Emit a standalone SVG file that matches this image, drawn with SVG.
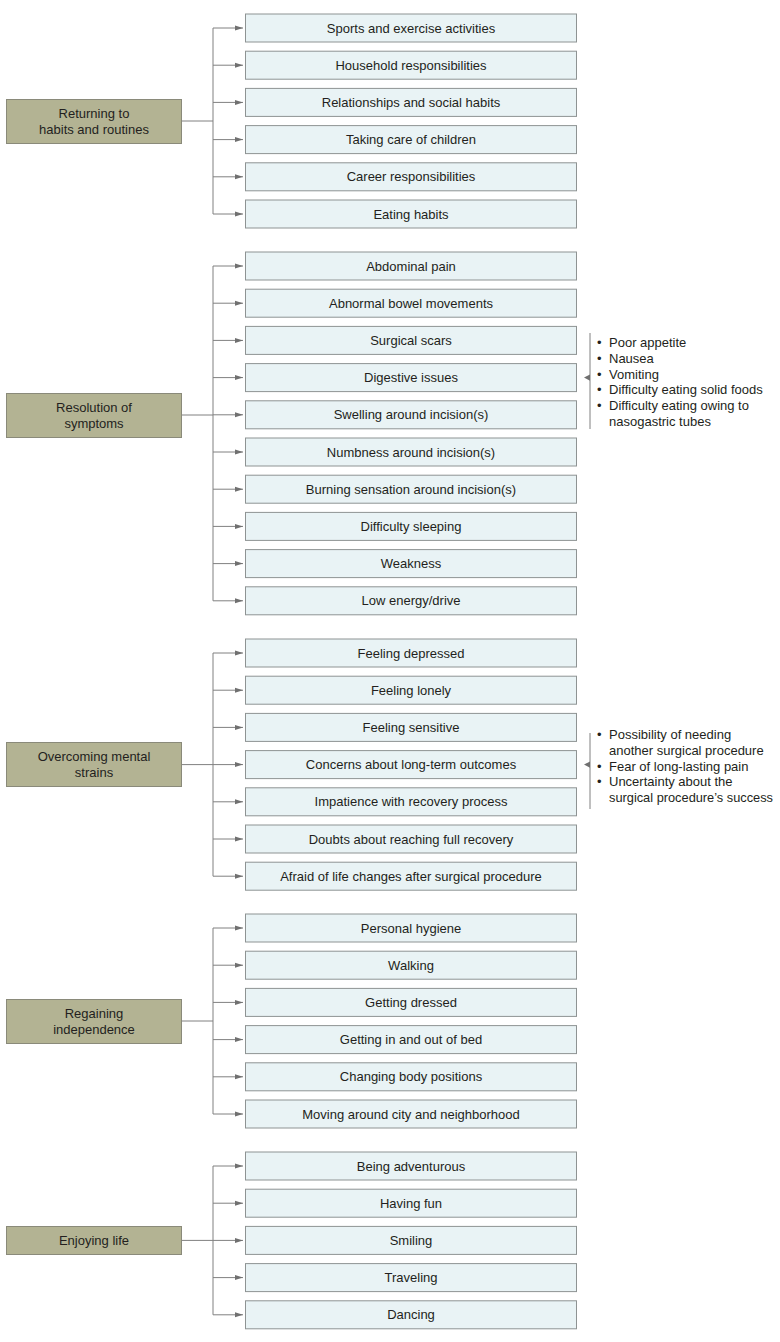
<svg xmlns="http://www.w3.org/2000/svg" width="780" height="1342" viewBox="0 0 780 1342">
<style>
.bg{fill:#ffffff}
.node rect.main{fill:#b3b393;stroke:#8a8a7a;stroke-width:1}
.node rect.item{fill:#e9f3f5;stroke:#8e9393;stroke-width:1}
text{font-family:"Liberation Sans",Arial,sans-serif;font-size:13px;fill:#231f20}
.c{text-anchor:middle}
.conn line{stroke:#808080;stroke-width:1;fill:none}
.conn path.tip{fill:#707070;stroke:none}
</style>
<defs>
<marker id="ah" viewBox="0 0 8 6" refX="8" refY="3" markerWidth="8" markerHeight="6" markerUnits="userSpaceOnUse" orient="auto">
<path d="M0,0.5 L8,3 L0,5.5 Z" fill="#707070"/>
</marker>
</defs>
<rect class="bg" x="0" y="0" width="780" height="1342"/>

<g class="conn">
<!-- group 1 -->
<line x1="182" y1="121" x2="213" y2="121"/>
<line x1="213" y1="28" x2="213" y2="214"/>
<line x1="213" y1="28" x2="243" y2="28" marker-end="url(#ah)"/>
<line x1="213" y1="65.2" x2="243" y2="65.2" marker-end="url(#ah)"/>
<line x1="213" y1="102.4" x2="243" y2="102.4" marker-end="url(#ah)"/>
<line x1="213" y1="139.6" x2="243" y2="139.6" marker-end="url(#ah)"/>
<line x1="213" y1="176.8" x2="243" y2="176.8" marker-end="url(#ah)"/>
<line x1="213" y1="214" x2="243" y2="214" marker-end="url(#ah)"/>
<!-- group 2 -->
<line x1="182" y1="415" x2="213" y2="415"/>
<line x1="213" y1="266" x2="213" y2="600.8"/>
<line x1="213" y1="266" x2="243" y2="266" marker-end="url(#ah)"/>
<line x1="213" y1="303.2" x2="243" y2="303.2" marker-end="url(#ah)"/>
<line x1="213" y1="340.4" x2="243" y2="340.4" marker-end="url(#ah)"/>
<line x1="213" y1="377.6" x2="243" y2="377.6" marker-end="url(#ah)"/>
<line x1="213" y1="414.8" x2="243" y2="414.8" marker-end="url(#ah)"/>
<line x1="213" y1="452" x2="243" y2="452" marker-end="url(#ah)"/>
<line x1="213" y1="489.2" x2="243" y2="489.2" marker-end="url(#ah)"/>
<line x1="213" y1="526.4" x2="243" y2="526.4" marker-end="url(#ah)"/>
<line x1="213" y1="563.6" x2="243" y2="563.6" marker-end="url(#ah)"/>
<line x1="213" y1="600.8" x2="243" y2="600.8" marker-end="url(#ah)"/>
<!-- group 3 -->
<line x1="182" y1="764.6" x2="213" y2="764.6"/>
<line x1="213" y1="653" x2="213" y2="876.2"/>
<line x1="213" y1="653" x2="243" y2="653" marker-end="url(#ah)"/>
<line x1="213" y1="690.2" x2="243" y2="690.2" marker-end="url(#ah)"/>
<line x1="213" y1="727.4" x2="243" y2="727.4" marker-end="url(#ah)"/>
<line x1="213" y1="764.6" x2="243" y2="764.6" marker-end="url(#ah)"/>
<line x1="213" y1="801.8" x2="243" y2="801.8" marker-end="url(#ah)"/>
<line x1="213" y1="839" x2="243" y2="839" marker-end="url(#ah)"/>
<line x1="213" y1="876.2" x2="243" y2="876.2" marker-end="url(#ah)"/>
<!-- group 4 -->
<line x1="182" y1="1021" x2="213" y2="1021"/>
<line x1="213" y1="928" x2="213" y2="1114"/>
<line x1="213" y1="928" x2="243" y2="928" marker-end="url(#ah)"/>
<line x1="213" y1="965.2" x2="243" y2="965.2" marker-end="url(#ah)"/>
<line x1="213" y1="1002.4" x2="243" y2="1002.4" marker-end="url(#ah)"/>
<line x1="213" y1="1039.6" x2="243" y2="1039.6" marker-end="url(#ah)"/>
<line x1="213" y1="1076.8" x2="243" y2="1076.8" marker-end="url(#ah)"/>
<line x1="213" y1="1114" x2="243" y2="1114" marker-end="url(#ah)"/>
<!-- group 5 -->
<line x1="182" y1="1240.4" x2="213" y2="1240.4"/>
<line x1="213" y1="1166" x2="213" y2="1314.8"/>
<line x1="213" y1="1166" x2="243" y2="1166" marker-end="url(#ah)"/>
<line x1="213" y1="1203.2" x2="243" y2="1203.2" marker-end="url(#ah)"/>
<line x1="213" y1="1240.4" x2="243" y2="1240.4" marker-end="url(#ah)"/>
<line x1="213" y1="1277.6" x2="243" y2="1277.6" marker-end="url(#ah)"/>
<line x1="213" y1="1314.8" x2="243" y2="1314.8" marker-end="url(#ah)"/>
<!-- side brackets -->
<line x1="590" y1="333" x2="590" y2="429"/>
<path class="tip" d="M590,374.5 L584,377.6 L590,380.7 Z"/>
<line x1="590" y1="733" x2="590" y2="809"/>
<path class="tip" d="M590,761.5 L584,764.6 L590,767.7 Z"/>
</g>

<!-- main nodes -->
<g id="n-returning" class="node"><rect class="main" x="6.5" y="99.5" width="175" height="44"/><text class="c" x="94" y="117.5">Returning to</text><text class="c" x="94" y="133.5">habits and routines</text></g>
<g id="n-symptoms" class="node"><rect class="main" x="6.5" y="393.5" width="175" height="44"/><text class="c" x="94" y="411.5">Resolution of</text><text class="c" x="94" y="427.5">symptoms</text></g>
<g id="n-mental" class="node"><rect class="main" x="6.5" y="742.5" width="175" height="44"/><text class="c" x="94" y="760.5">Overcoming mental</text><text class="c" x="94" y="776.5">strains</text></g>
<g id="n-independence" class="node"><rect class="main" x="6.5" y="999.5" width="175" height="44"/><text class="c" x="94" y="1017.5">Regaining</text><text class="c" x="94" y="1033.5">independence</text></g>
<g id="n-enjoying" class="node"><rect class="main" x="6.5" y="1226.5" width="175" height="28"/><text class="c" x="94" y="1245">Enjoying life</text></g>

<!-- group 1 items -->
<g id="i-sports" class="node"><rect class="item" x="245.5" y="14" width="331" height="28"/><text class="c" x="411" y="32.5">Sports and exercise activities</text></g>
<g id="i-household" class="node"><rect class="item" x="245.5" y="51.2" width="331" height="28"/><text class="c" x="411" y="69.7">Household responsibilities</text></g>
<g id="i-relationships" class="node"><rect class="item" x="245.5" y="88.4" width="331" height="28"/><text class="c" x="411" y="106.9">Relationships and social habits</text></g>
<g id="i-children" class="node"><rect class="item" x="245.5" y="125.6" width="331" height="28"/><text class="c" x="411" y="144.1">Taking care of children</text></g>
<g id="i-career" class="node"><rect class="item" x="245.5" y="162.8" width="331" height="28"/><text class="c" x="411" y="181.3">Career responsibilities</text></g>
<g id="i-eating" class="node"><rect class="item" x="245.5" y="200" width="331" height="28"/><text class="c" x="411" y="218.5">Eating habits</text></g>

<!-- group 2 items -->
<g id="i-abdominal" class="node"><rect class="item" x="245.5" y="252" width="331" height="28"/><text class="c" x="411" y="270.5">Abdominal pain</text></g>
<g id="i-bowel" class="node"><rect class="item" x="245.5" y="289.2" width="331" height="28"/><text class="c" x="411" y="307.7">Abnormal bowel movements</text></g>
<g id="i-scars" class="node"><rect class="item" x="245.5" y="326.4" width="331" height="28"/><text class="c" x="411" y="344.9">Surgical scars</text></g>
<g id="i-digestive" class="node"><rect class="item" x="245.5" y="363.6" width="331" height="28"/><text class="c" x="411" y="382.1">Digestive issues</text></g>
<g id="i-swelling" class="node"><rect class="item" x="245.5" y="400.8" width="331" height="28"/><text class="c" x="411" y="419.3">Swelling around incision(s)</text></g>
<g id="i-numbness" class="node"><rect class="item" x="245.5" y="438" width="331" height="28"/><text class="c" x="411" y="456.5">Numbness around incision(s)</text></g>
<g id="i-burning" class="node"><rect class="item" x="245.5" y="475.2" width="331" height="28"/><text class="c" x="411" y="493.7">Burning sensation around incision(s)</text></g>
<g id="i-sleeping" class="node"><rect class="item" x="245.5" y="512.4" width="331" height="28"/><text class="c" x="411" y="530.9">Difficulty sleeping</text></g>
<g id="i-weakness" class="node"><rect class="item" x="245.5" y="549.6" width="331" height="28"/><text class="c" x="411" y="568.1">Weakness</text></g>
<g id="i-energy" class="node"><rect class="item" x="245.5" y="586.8" width="331" height="28"/><text class="c" x="411" y="605.3">Low energy/drive</text></g>

<!-- digestive list -->
<g id="l-digestive">
<text x="597" y="347">•</text><text x="609" y="347">Poor appetite</text>
<text x="597" y="362.8">•</text><text x="609" y="362.8">Nausea</text>
<text x="597" y="378.6">•</text><text x="609" y="378.6">Vomiting</text>
<text x="597" y="394.4">•</text><text x="609" y="394.4">Difficulty eating solid foods</text>
<text x="597" y="410.2">•</text><text x="609" y="410.2">Difficulty eating owing to</text>
<text x="609" y="426">nasogastric tubes</text>
</g>

<!-- group 3 items -->
<g id="i-depressed" class="node"><rect class="item" x="245.5" y="639" width="331" height="28"/><text class="c" x="411" y="657.5">Feeling depressed</text></g>
<g id="i-lonely" class="node"><rect class="item" x="245.5" y="676.2" width="331" height="28"/><text class="c" x="411" y="694.7">Feeling lonely</text></g>
<g id="i-sensitive" class="node"><rect class="item" x="245.5" y="713.4" width="331" height="28"/><text class="c" x="411" y="731.9">Feeling sensitive</text></g>
<g id="i-concerns" class="node"><rect class="item" x="245.5" y="750.6" width="331" height="28"/><text class="c" x="411" y="769.1">Concerns about long-term outcomes</text></g>
<g id="i-impatience" class="node"><rect class="item" x="245.5" y="787.8" width="331" height="28"/><text class="c" x="411" y="806.3">Impatience with recovery process</text></g>
<g id="i-doubts" class="node"><rect class="item" x="245.5" y="825" width="331" height="28"/><text class="c" x="411" y="843.5">Doubts about reaching full recovery</text></g>
<g id="i-afraid" class="node"><rect class="item" x="245.5" y="862.2" width="331" height="28"/><text class="c" x="411" y="880.7">Afraid of life changes after surgical procedure</text></g>

<!-- concerns list -->
<g id="l-concerns">
<text x="597" y="739">•</text><text x="609" y="739">Possibility of needing</text>
<text x="609" y="754.8">another surgical procedure</text>
<text x="597" y="770.6">•</text><text x="609" y="770.6">Fear of long-lasting pain</text>
<text x="597" y="786.4">•</text><text x="609" y="786.4">Uncertainty about the</text>
<text x="609" y="802.2" textLength="164" lengthAdjust="spacingAndGlyphs">surgical procedure’s success</text>
</g>

<!-- group 4 items -->
<g id="i-hygiene" class="node"><rect class="item" x="245.5" y="914" width="331" height="28"/><text class="c" x="411" y="932.5">Personal hygiene</text></g>
<g id="i-walking" class="node"><rect class="item" x="245.5" y="951.2" width="331" height="28"/><text class="c" x="411" y="969.7">Walking</text></g>
<g id="i-dressed" class="node"><rect class="item" x="245.5" y="988.4" width="331" height="28"/><text class="c" x="411" y="1006.9">Getting dressed</text></g>
<g id="i-bed" class="node"><rect class="item" x="245.5" y="1025.6" width="331" height="28"/><text class="c" x="411" y="1044.1">Getting in and out of bed</text></g>
<g id="i-positions" class="node"><rect class="item" x="245.5" y="1062.8" width="331" height="28"/><text class="c" x="411" y="1081.3">Changing body positions</text></g>
<g id="i-moving" class="node"><rect class="item" x="245.5" y="1100" width="331" height="28"/><text class="c" x="411" y="1118.5">Moving around city and neighborhood</text></g>

<!-- group 5 items -->
<g id="i-adventurous" class="node"><rect class="item" x="245.5" y="1152" width="331" height="28"/><text class="c" x="411" y="1170.5">Being adventurous</text></g>
<g id="i-fun" class="node"><rect class="item" x="245.5" y="1189.2" width="331" height="28"/><text class="c" x="411" y="1207.7">Having fun</text></g>
<g id="i-smiling" class="node"><rect class="item" x="245.5" y="1226.4" width="331" height="28"/><text class="c" x="411" y="1244.9">Smiling</text></g>
<g id="i-traveling" class="node"><rect class="item" x="245.5" y="1263.6" width="331" height="28"/><text class="c" x="411" y="1282.1">Traveling</text></g>
<g id="i-dancing" class="node"><rect class="item" x="245.5" y="1300.8" width="331" height="28"/><text class="c" x="411" y="1319.3">Dancing</text></g>
</svg>
